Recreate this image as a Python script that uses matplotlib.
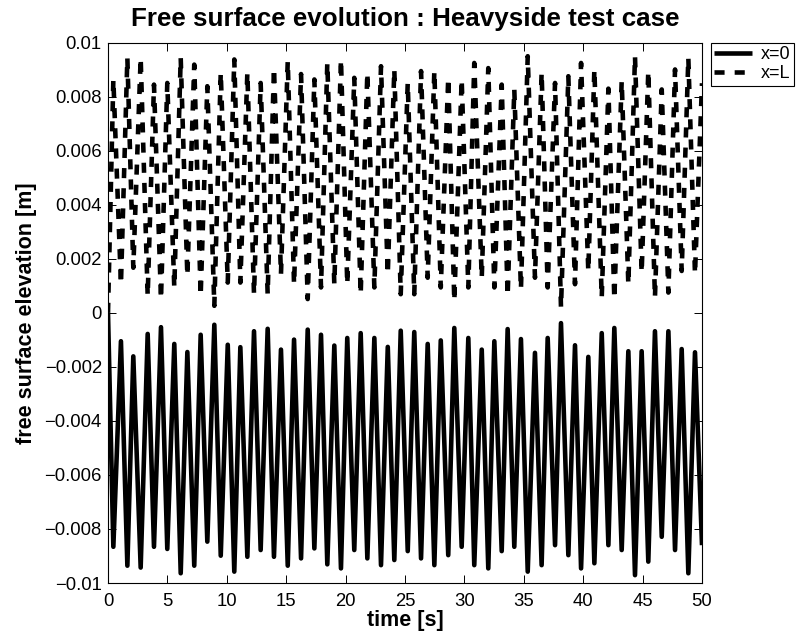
import numpy as np
import matplotlib
matplotlib.use("Agg")
import matplotlib.pyplot as plt

# ---- data (values in 1e-3 m) ----
# times (s) of the troughs of x=0 (= crests of x=L)
t_low0 = [0.45, 1.63, 2.75, 3.87, 4.99, 6.12, 7.26, 8.36, 9.49, 10.63, 11.73, 12.85, 13.97,
          15.13, 16.25, 17.37, 18.46, 19.61, 20.73, 21.83, 22.98, 24.10, 25.23, 26.35, 27.47, 28.64,
          29.77, 30.83, 32.01, 33.14, 34.20, 35.33, 36.50, 37.63, 38.75, 39.82, 40.94, 42.12,
          43.24, 44.36, 45.48, 46.61, 47.73, 48.85]
# times (s) of the crests of x=0 (= troughs of x=L)
t_high0 = [1.09, 2.13, 3.34, 4.46, 5.58, 6.68, 7.80, 8.95, 10.08, 11.14, 12.29, 13.44,
           14.56, 15.66, 16.81, 17.93, 19.05, 20.14, 21.27, 22.42, 23.55, 24.64, 25.78, 26.91, 28.01,
           29.15, 30.33, 31.46, 32.52, 33.64, 34.76, 35.94, 37.01, 38.13, 39.31, 40.43, 41.56, 42.62,
           43.80, 44.92, 46.04, 47.17, 48.29, 49.41]

x0_low = [-8.66, -9.36, -9.43, -8.66, -8.74, -9.64, -9.36, -8.47, -8.99, -9.58, -9.03, -8.78, -9.03,
          -9.36, -9.09, -8.72, -9.31, -9.46, -8.78, -9.09, -9.34, -9.15, -8.82, -9.09, -9.34, -8.97,
          -8.66, -9.34, -9.46, -8.82, -8.66, -9.58, -9.34, -8.60, -8.97, -9.46, -9.27, -8.60,
          -8.78, -9.71, -9.21, -8.29, -8.78, -9.64]
x0_high = [-1.05, -1.61, -0.78, -0.53, -1.15, -1.45, -0.81, -0.44, -1.18, -1.27, -0.68, -0.59,
           -1.36, -0.99, -0.62, -0.81, -1.21, -0.93, -0.75, -0.93, -1.26, -0.66, -0.71, -1.15, -1.02,
           -0.56, -0.93, -1.36, -1.05, -0.60, -0.97, -1.48, -0.93, -0.38, -1.20, -1.63, -0.75, -0.56,
           -1.42, -1.42, -0.68, -0.68, -1.34, -1.46]

xL_high = [8.64, 9.44, 9.44, 8.45, 8.51, 9.44, 9.19, 8.39, 8.89, 9.38, 8.89, 8.51, 9.06,
           9.32, 8.84, 8.64, 9.25, 9.38, 8.70, 8.89, 9.13, 9.01, 8.51, 8.95, 8.95, 8.70,
           8.64, 9.25, 9.06, 8.45, 8.27, 9.50, 8.89, 8.51, 8.76, 9.25, 9.01, 8.30,
           8.58, 9.50, 8.95, 8.27, 9.01, 9.44]
xL_low = [1.06, 1.67, 0.63, 0.51, 0.94, 1.37, 0.63, 0.26, 1.12, 1.12, 0.69, 0.69,
          1.43, 1.06, 0.51, 0.94, 1.06, 1.06, 0.69, 0.94, 1.43, 0.69, 0.69, 1.30, 0.94,
          0.44, 0.94, 1.30, 0.94, 0.63, 0.88, 1.30, 0.94, 0.20, 1.06, 1.55, 0.57, 0.51,
          1.06, 1.49, 0.57, 0.75, 1.55, 1.44]

t_start, t_end = 0.0, 50.0
x0_start, x0_end = 0.0, -8.6
xL_start, xL_end = 0.0, 8.5

labels = ["x=0", "x=L"]
xticks = [0, 5, 10, 15, 20, 25, 30, 35, 40, 45, 50]
yticks = [-0.01, -0.008, -0.006, -0.004, -0.002, 0, 0.002, 0.004, 0.006, 0.008, 0.01]
yticklabels = ["\u22120.01", "\u22120.008", "\u22120.006", "\u22120.004", "\u22120.002", "0",
               "0.002", "0.004", "0.006", "0.008", "0.01"]

# ---- assemble series (sorted by time) ----
t_all = np.concatenate([[t_start], t_low0, t_high0, [t_end]])
order = np.argsort(t_all)
t = t_all[order]
eta0 = np.concatenate([[x0_start], x0_low, x0_high, [x0_end]])[order] * 1e-3
etaL = np.concatenate([[xL_start], xL_high, xL_low, [xL_end]])[order] * 1e-3

plt.rcParams['font.family'] = ['Liberation Sans', 'DejaVu Sans']

fig = plt.figure(figsize=(7.99, 6.39), dpi=100)
ax = fig.add_axes([108 / 799, 1 - 583 / 639, (702 - 108) / 799, (583 - 42.7) / 639])

lw = 3.3
ax.plot(t, eta0, color='black', lw=lw, solid_joinstyle='round', solid_capstyle='butt', label=labels[0])
ax.plot(t, etaL, color='black', lw=lw, linestyle=(0, (2.2, 2.2)), dash_capstyle='butt',
        dash_joinstyle='round', label=labels[1])

ax.set_xlim(0, 50)
ax.set_ylim(-0.01, 0.01)
ax.set_xticks(xticks)
ax.set_xticklabels([str(v) for v in xticks])
ax.set_yticks(yticks)
ax.set_yticklabels(yticklabels)
ax.tick_params(direction='in', length=5.5, width=0.7, top=True, right=True,
               labelsize=13.3, colors='black')
ax.tick_params(axis='x', pad=7)
ax.tick_params(axis='y', pad=4.5)
for s in ax.spines.values():
    s.set_linewidth(0.8)

ax.set_title("Free surface evolution : Heavyside test case", fontsize=18.7, fontweight='bold', pad=12)
ax.set_xlabel("time [s]", fontsize=15.5, fontweight='bold', labelpad=0)
ax.set_ylabel("free surface elevation [m]", fontsize=15.5, fontweight='bold', labelpad=5)

leg = ax.legend(loc='upper left', bbox_to_anchor=(710.7 / 799, 1 - 42.7 / 639),
                bbox_transform=fig.transFigure, fontsize=13, frameon=True, fancybox=False,
                framealpha=1, edgecolor='black', handlelength=2.1, handletextpad=0.5,
                borderpad=0.2, labelspacing=0.12, borderaxespad=0)
leg.get_frame().set_linewidth(0.8)

fig.savefig("out.png", dpi=100)
